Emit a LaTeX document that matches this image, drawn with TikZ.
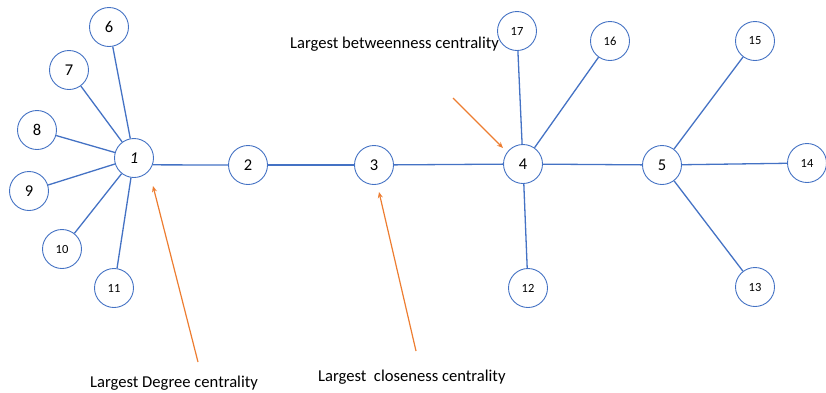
\documentclass[tikz,border=0pt]{standalone}
\usepackage{fontspec}
\setmainfont{Carlito}
\usetikzlibrary{arrows.meta}
\definecolor{nodeblue}{HTML}{4472C4}
\definecolor{arrorange}{HTML}{ED7D31}
\begin{document}
\begin{tikzpicture}[x=1pt,y=-1pt,
  vtx/.style={circle,draw=nodeblue,line width=0.9pt,fill=white,minimum size=39pt,inner sep=0pt,font=\fontsize{16.5}{19}\selectfont},
  svtx/.style={vtx,font=\fontsize{12.5}{15}\selectfont},
  edge/.style={draw=nodeblue,line width=1.3pt},
  pointer/.style={draw=arrorange,line width=1.2pt,-{Stealth[length=6pt,width=5pt]}},
  lbl/.style={anchor=west,inner sep=0pt,font=\fontsize{16.6}{19}\selectfont}]
\useasboundingbox (0,0) rectangle (826,392);
% nodes
\node[vtx] (n1) at (134,158) {\textit{1}};
\node[vtx] (n2) at (248,165) {2};
\node[vtx] (n3) at (374,165) {3};
\node[vtx] (n4) at (523,164) {4};
\node[vtx] (n5) at (662,165) {5};
\node[vtx] (n6) at (109,27) {6};
\node[vtx] (n7) at (69,70) {7};
\node[vtx] (n8) at (37,130) {8};
\node[vtx] (n9) at (29,191) {9};
\node[svtx] (n10) at (62,249) {10};
\node[svtx] (n11) at (114,288) {11};
\node[svtx] (n12) at (528,288) {12};
\node[svtx] (n13) at (755,287) {13};
\node[svtx] (n14) at (807,163) {14};
\node[svtx] (n15) at (755,41) {15};
\node[svtx] (n16) at (610,41) {16};
\node[svtx] (n17) at (517,31) {17};
% edges
\draw[edge] (n1) -- (n6);
\draw[edge] (n1) -- (n7);
\draw[edge] (n1) -- (n8);
\draw[edge] (n1) -- (n9);
\draw[edge] (n1) -- (n10);
\draw[edge] (n1) -- (n11);
\draw[edge] (n1.-20) -- (n2.west);
\draw[edge] (n2) -- (n3);
\draw[edge] (n3) -- (n4);
\draw[edge] (n4) -- (n17);
\draw[edge] (n4) -- (n16);
\draw[edge] (n4) -- (n12);
\draw[edge] (n4) -- (n5);
\draw[edge] (n5) -- (n15);
\draw[edge] (n5) -- (n14);
\draw[edge] (n5) -- (n13);
% labels
\node[lbl] (lb) at (290,44) {Largest betweenness centrality};
\node[lbl] (ld) at (90,383) {Largest Degree centrality};
\node[lbl] (lc) at (318,377) {Largest\ \ closeness centrality};
% pointers
\coordinate (tb) at (453,98);
\coordinate (hb) at (503,148);
\coordinate (td) at (198,362);
\coordinate (hd) at (153,186);
\coordinate (tc) at (416,351);
\coordinate (hc) at (379,192);
\draw[pointer] (tb) -- (hb);
\draw[pointer] (td) -- (hd);
\draw[pointer] (tc) -- (hc);
\end{tikzpicture}
\end{document}
